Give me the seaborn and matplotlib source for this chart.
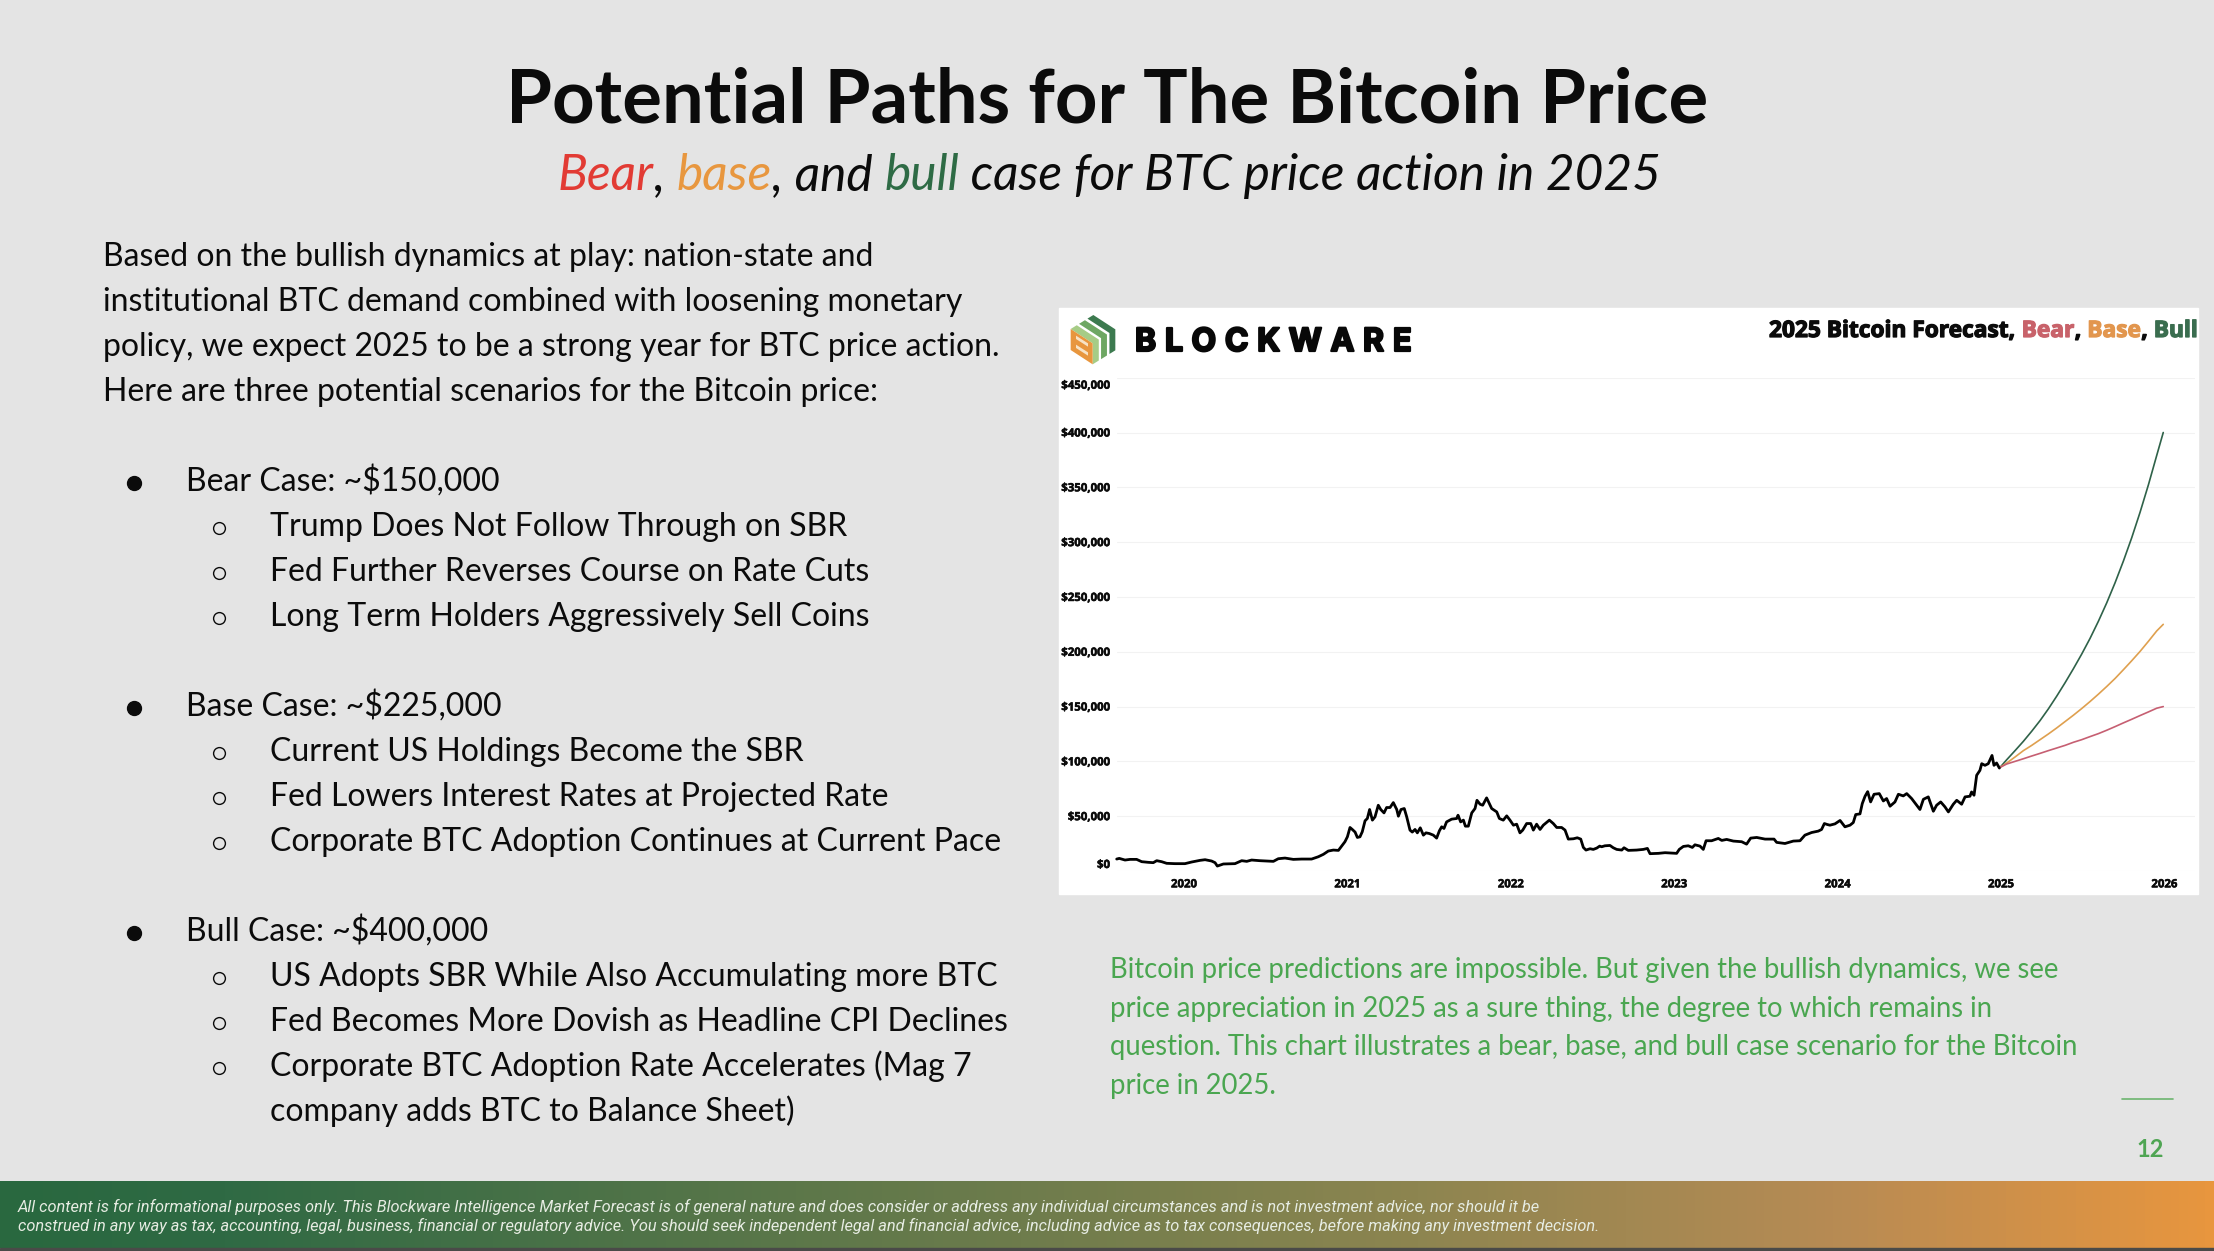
import matplotlib
matplotlib.use('Agg')
import matplotlib.pyplot as plt
import matplotlib.patheffects as pe
from matplotlib.colors import LinearSegmentedColormap
from matplotlib.font_manager import FontProperties
from matplotlib.patches import Polygon, Rectangle
from matplotlib.ticker import FixedLocator
from matplotlib.transforms import ScaledTranslation
import numpy as np
import seaborn as sns

# BTC price history, decimal year / USD
hist_year = [
    2019.588, 2019.604, 2019.639, 2019.670, 2019.710, 2019.741, 2019.782, 2019.812, 2019.833, 2019.863,
    2019.894, 2019.945, 2020.006, 2020.047, 2020.098, 2020.129, 2020.169, 2020.190, 2020.204, 2020.241,
    2020.312, 2020.353, 2020.384, 2020.414, 2020.465, 2020.547, 2020.577, 2020.618, 2020.669, 2020.720,
    2020.781, 2020.822, 2020.853, 2020.883, 2020.914, 2020.945, 2020.965, 2020.985, 2021.000, 2021.016,
    2021.030, 2021.047, 2021.061, 2021.077, 2021.091, 2021.108, 2021.122, 2021.136, 2021.153, 2021.169,
    2021.189, 2021.204, 2021.224, 2021.240, 2021.261, 2021.281, 2021.302, 2021.312, 2021.328, 2021.348,
    2021.363, 2021.383, 2021.397, 2021.414, 2021.428, 2021.446, 2021.465, 2021.481, 2021.501, 2021.526,
    2021.546, 2021.563, 2021.577, 2021.591, 2021.607, 2021.638, 2021.669, 2021.677, 2021.693, 2021.710,
    2021.722, 2021.740, 2021.761, 2021.781, 2021.793, 2021.812, 2021.828, 2021.852, 2021.869, 2021.883,
    2021.914, 2021.930, 2021.954, 2021.975, 2021.995, 2022.016, 2022.036, 2022.056, 2022.073, 2022.097,
    2022.122, 2022.138, 2022.158, 2022.179, 2022.199, 2022.236, 2022.260, 2022.281, 2022.311, 2022.332,
    2022.352, 2022.383, 2022.407, 2022.428, 2022.444, 2022.460, 2022.485, 2022.505, 2022.526, 2022.544,
    2022.556, 2022.576, 2022.607, 2022.627, 2022.648, 2022.679, 2022.693, 2022.719, 2022.770, 2022.811,
    2022.836, 2022.852, 2022.903, 2022.944, 2023.015, 2023.031, 2023.056, 2023.086, 2023.111, 2023.127,
    2023.158, 2023.178, 2023.195, 2023.229, 2023.270, 2023.291, 2023.321, 2023.362, 2023.413, 2023.443,
    2023.468, 2023.505, 2023.556, 2023.611, 2023.627, 2023.678, 2023.729, 2023.770, 2023.800, 2023.841,
    2023.882, 2023.902, 2023.919, 2023.937, 2023.953, 2023.984, 2024.015, 2024.045, 2024.076, 2024.096,
    2024.111, 2024.137, 2024.151, 2024.168, 2024.184, 2024.202, 2024.223, 2024.255, 2024.280, 2024.300,
    2024.321, 2024.351, 2024.372, 2024.402, 2024.423, 2024.453, 2024.484, 2024.504, 2024.525, 2024.555,
    2024.586, 2024.606, 2024.631, 2024.657, 2024.678, 2024.708, 2024.729, 2024.759, 2024.780, 2024.810,
    2024.820, 2024.835, 2024.851, 2024.871, 2024.882, 2024.902, 2024.922, 2024.945, 2024.957, 2024.973,
    2024.990,
]
hist_price = [
    10900, 11500, 10000, 10600, 10600, 8500, 7900, 7600, 9400, 8500,
    7000, 6700, 6700, 8200, 9700, 10300, 9100, 7600, 4500, 6400,
    6700, 9400, 8800, 10000, 9400, 8800, 11200, 11800, 10600, 10900,
    10900, 13000, 15200, 18200, 19100, 18800, 22700, 26700, 31200, 39700,
    37900, 35500, 30600, 31200, 35800, 45800, 47900, 56100, 46400, 49400,
    60000, 56100, 53000, 57900, 57900, 62400, 56100, 50000, 56100, 57000,
    49400, 37300, 35500, 37900, 34800, 39400, 32700, 34800, 34200, 32700,
    30000, 36700, 40300, 38800, 44800, 47300, 47900, 50900, 44800, 46400,
    40900, 40900, 53000, 57000, 64500, 60900, 60000, 66700, 61500, 57000,
    53900, 47900, 46400, 50300, 46400, 41800, 42700, 34800, 37300, 43300,
    43300, 37300, 42700, 37900, 41800, 46400, 43300, 39700, 39700, 37300,
    29100, 29400, 30300, 29100, 21500, 19100, 20300, 19700, 20900, 22700,
    22100, 23000, 23300, 21200, 19700, 19100, 21200, 18800, 19100, 19700,
    20600, 15800, 16100, 16700, 16100, 19700, 22400, 23000, 21500, 23900,
    22700, 19700, 27600, 27600, 29700, 27900, 28800, 27300, 26700, 24500,
    30000, 30600, 29100, 29100, 26100, 25100, 27300, 27600, 32700, 35100,
    36400, 37900, 43300, 42400, 41800, 43000, 46100, 40300, 41800, 44200,
    51500, 52100, 61500, 68200, 72400, 63000, 70000, 70600, 63900, 66100,
    59100, 63000, 70000, 68500, 70600, 66100, 60000, 56100, 65400, 67600,
    54500, 60000, 63000, 58500, 53900, 60900, 64500, 60900, 67600, 68200,
    72100, 69100, 87300, 91800, 97900, 96400, 97900, 105400, 96400, 98500,
    93900,
]

# 2025 scenarios
fc_year = [2024.994, 2025.035, 2025.086, 2025.137, 2025.188, 2025.239, 2025.290, 2025.341, 2025.392, 2025.443,
           2025.494, 2025.545, 2025.596, 2025.647, 2025.698, 2025.749, 2025.800, 2025.851, 2025.902, 2025.953,
           2025.993]
fc_bear = [94500, 97600, 100000, 102400, 104900, 107300, 109800, 112200, 114600, 117400,
           119800, 122600, 125300, 128400, 131700, 135100, 138400, 141800, 145100, 148500,
           150000]
fc_base = [94500, 98500, 104000, 109800, 114600, 119800, 125000, 130500, 136300, 142100,
           148200, 154600, 161300, 168300, 175600, 183600, 191800, 200300, 209500, 219000,
           225000]
fc_bull = [94500, 101500, 109800, 118300, 127500, 137200, 147900, 159500, 171700, 184500,
           197900, 212200, 227800, 244600, 262900, 282700, 304000, 327200, 352200, 379100,
           400000]

y_ticks = [0, 50000, 100000, 150000, 200000, 250000, 300000, 350000, 400000, 450000]
x_ticks = [2020, 2021, 2022, 2023, 2024, 2025, 2026]

intro_lines = [
    'Based on the bullish dynamics at play: nation-state and',
    'institutional BTC demand combined with loosening monetary',
    'policy, we expect 2025 to be a strong year for BTC price action.',
    'Here are three potential scenarios for the Bitcoin price:',
]
bullets = [
    ('Bear Case: ~$150,000', ['Trump Does Not Follow Through on SBR',
                              'Fed Further Reverses Course on Rate Cuts',
                              'Long Term Holders Aggressively Sell Coins']),
    ('Base Case: ~$225,000', ['Current US Holdings Become the SBR',
                              'Fed Lowers Interest Rates at Projected Rate',
                              'Corporate BTC Adoption Continues at Current Pace']),
    ('Bull Case: ~$400,000', ['US Adopts SBR While Also Accumulating more BTC',
                              'Fed Becomes More Dovish as Headline CPI Declines',
                              'Corporate BTC Adoption Rate Accelerates (Mag 7',
                              'company adds BTC to Balance Sheet)']),
]
note_lines = [
    'Bitcoin price predictions are impossible. But given the bullish dynamics, we see',
    'price appreciation in 2025 as a sure thing, the degree to which remains in',
    'question. This chart illustrates a bear, base, and bull case scenario for the Bitcoin',
    'price in 2025.',
]
footer_lines = [
    'All content is for informational purposes only. This Blockware Intelligence Market Forecast is of general nature and does consider or address any individual circumstances and is not investment advice, nor should it be',
    'construed in any way as tax, accounting, legal, business, financial or regulatory advice. You should seek independent legal and financial advice, including advice as to tax consequences, before making any investment decision.',
]

BG = '#e4e4e4'
BLACK = '#0b0b0b'
NOTE_GREEN = '#4aa650'

sns.set_theme(style='white')
plt.rcParams['font.family'] = ['Lato', 'DejaVu Sans']

W, H = 2214, 1251
fig = plt.figure(figsize=(W / 100, H / 100), dpi=100, facecolor=BG)

# page layer, data units are image pixels
page = fig.add_axes([0, 0, 1, 1], zorder=0)
page.set_axis_off()
foot_cmap = LinearSegmentedColormap.from_list(
    'foot', [(0, '#29683f'), (0.10, '#2f6a44'), (0.64, '#8d8550'), (0.83, '#b78b54'), (1, '#e8963e')])
page.imshow(np.linspace(0, 1, 512)[None, :], cmap=foot_cmap, extent=(0, W, 1248, 1181), aspect='auto', zorder=1)
page.add_patch(Rectangle((0, 1248), W, 3, color='#4a4a48', zorder=1))
page.add_patch(Rectangle((1059, 308), 1139, 586, color='white', zorder=1))
page.set_xlim(0, W)
page.set_ylim(H, 0)

renderer = fig.canvas.get_renderer()


def text_width(s, fp):
    w1 = renderer.get_text_width_height_descent(s + '|', fp, False)[0]
    w0 = renderer.get_text_width_height_descent('|', fp, False)[0]
    return w1 - w0


def color_runs(x, y, parts, stroke=0, **kw):
    fp = FontProperties(family=kw['family'], size=kw['fontsize'], weight=kw.get('fontweight', 'normal'),
                        style=kw.get('fontstyle', 'normal'))
    for s, c in parts:
        t = page.text(x, y, s, color=c, va='baseline', ha='left', **kw)
        if stroke:
            t.set_path_effects([pe.withStroke(linewidth=stroke, foreground=c)])
        x += text_width(s, fp)
    return x


# headers
page.text(1107, 122.5, 'Potential Paths for The Bitcoin Price', family='Lato', fontweight='bold',
          fontsize=53.5, color=BLACK, ha='center', va='baseline')
color_runs(558, 190, [('Bear', '#e23b34'), (', ', BLACK), ('base', '#e8973f'), (', and ', BLACK),
                      ('bull', '#2e6b45'), (' case for BTC price action in 2025', BLACK)],
           family='Lato', fontstyle='italic', fontsize=35.7)

# left column
BODY = 23.0
for i, line in enumerate(intro_lines):
    page.text(103, 266 + i * 45, line, family='Lato', fontsize=BODY, color=BLACK, va='baseline')

base_y = 491
for head, subs in bullets:
    page.plot([134], [base_y - 8], marker='o', ms=10, color=BLACK, zorder=3)
    page.text(186.5, base_y, head, family='Lato', fontsize=BODY, color=BLACK, va='baseline')
    sub_y = base_y + 45
    for sub in subs:
        if not sub.startswith('company'):
            page.plot([218.5], [sub_y - 8], marker='o', ms=8.5, mfc='none', mec=BLACK, mew=1.0, zorder=3)
        page.text(270, sub_y, sub, family='Lato', fontsize=BODY, color=BLACK, va='baseline')
        sub_y += 45
    base_y = sub_y + 45

# note under the chart
for y, line in zip([978, 1017, 1055, 1094], note_lines):
    page.text(1110, y, line, family='Lato', fontsize=19.8, color=NOTE_GREEN, va='baseline')

# page number and rule
page.plot([2122, 2173], [1098.5, 1098.5], color='#6cb56f', lw=1.2)
page.text(2150, 1157, '12', family='Lato', fontweight='bold', fontsize=17, color='#4fa553', ha='center', va='baseline')

# footer
for y, line in zip([1212, 1230.5], footer_lines):
    page.text(18, y, line, family='Roboto', fontstyle='italic', fontsize=11.8, color='#e6ece2', va='baseline')


# logo, local coordinates come from a 3x crop of the reference
def logo_pt(x, y):
    return (1060 + x / 3, 305 + y / 3)


for t0, t1, col in [(0, 0.27, '#a6cc86'), (0.37, 0.63, '#6ea763'), (0.74, 1, '#3c7a4f')]:
    a = (32 + 68 * t0, 72 - 42 * t0)
    b = (32 + 68 * t1, 72 - 42 * t1)
    pts = [a, b, (b[0] + 66, b[1] + 43), (b[0] + 66, b[1] + 106), (a[0] + 66, a[1] + 106), (a[0] + 66, a[1] + 43)]
    page.add_patch(Polygon([logo_pt(*p) for p in pts], color=col, lw=0, zorder=2))
page.add_patch(Polygon([logo_pt(*p) for p in [(32, 72), (98, 115), (98, 178), (32, 135)]], color='#e8963e', lw=0, zorder=2))
for dy in [0, 27]:
    page.add_patch(Polygon([logo_pt(*p) for p in [(48, 92 + dy), (84, 115 + dy), (84, 125 + dy), (48, 102 + dy)]],
                           color='#f7e3c6', lw=0, zorder=3))

# wordmark, spaced by hand since matplotlib has no tracking
word = 'BLOCKWARE'
word_fp = FontProperties(family='Inter', size=23, weight='bold')
word_widths = [text_width(c, word_fp) for c in word]
gap = (277 - sum(word_widths)) / (len(word) - 1)
wx = 1135
for c, w in zip(word, word_widths):
    t = page.text(wx, 351, c, family='Inter', fontweight='bold', fontsize=23, color='#080808', va='baseline')
    t.set_path_effects([pe.withStroke(linewidth=1.6, foreground='#080808')])
    wx += w + gap

# chart title
color_runs(1769, 337, [('2025 Bitcoin Forecast, ', '#0b0b0b'), ('Bear', '#c8626a'), (', ', '#0b0b0b'),
                       ('Base', '#e2964e'), (', ', '#0b0b0b'), ('Bull', '#3a6d4f')],
           stroke=0.9, family='Open Sans', fontweight='bold', fontsize=16.35)

# chart, placed so that $0 and $450,000 land on the reference gridlines
x_left, x_right, y_top, y_bot = 1117, 2195, 377.7, 871
ax = fig.add_axes([x_left / W, 1 - y_bot / H, (x_right - x_left) / W, (y_bot - y_top) / H], zorder=1)
ax.patch.set_alpha(0)

sns.lineplot(x=fc_year, y=fc_bull, ax=ax, color='#2f6249', linewidth=1.2, estimator=None, sort=False, zorder=3)
sns.lineplot(x=fc_year, y=fc_base, ax=ax, color='#dfa04f', linewidth=1.2, estimator=None, sort=False, zorder=3)
sns.lineplot(x=fc_year, y=fc_bear, ax=ax, color='#c65f72', linewidth=1.2, estimator=None, sort=False, zorder=3)
sns.lineplot(x=hist_year, y=hist_price, ax=ax, color='black', linewidth=2.0, estimator=None, sort=False, zorder=4)

ax.set_xlim(2020 + (x_left - 1184) / 163.4, 2020 + (x_right - 1184) / 163.4)
ax.set_ylim(0, 450000)
ax.xaxis.set_major_locator(FixedLocator(x_ticks))
ax.yaxis.set_major_locator(FixedLocator(y_ticks))
ax.set_xticklabels([str(v) for v in x_ticks])
ax.set_yticklabels([f'${v:,}' for v in y_ticks])
ax.grid(axis='y', color='#f2f2f2', linewidth=0.8)
ax.set_axisbelow(True)
ax.tick_params(axis='both', length=0)
ax.tick_params(axis='x', pad=6)
ax.tick_params(axis='y', pad=5)
sns.despine(ax=ax, left=True, bottom=True)
for lab in ax.get_xticklabels() + ax.get_yticklabels():
    lab.set_family('Open Sans')
    lab.set_fontweight('bold')
    lab.set_fontsize(8.2)
    lab.set_color('#0b0b0b')
    lab.set_path_effects([pe.withStroke(linewidth=0.4, foreground='#0b0b0b')])
# the top and bottom labels sit inside the grid in the reference
ylabels = ax.get_yticklabels()
ylabels[0].set_transform(ylabels[0].get_transform() + ScaledTranslation(0, 7 / 100, fig.dpi_scale_trans))
ylabels[-1].set_transform(ylabels[-1].get_transform() + ScaledTranslation(0, -7 / 100, fig.dpi_scale_trans))
for line in ax.get_lines():
    line.set_clip_on(False)

fig.savefig('out.png', dpi=100, facecolor=BG)
